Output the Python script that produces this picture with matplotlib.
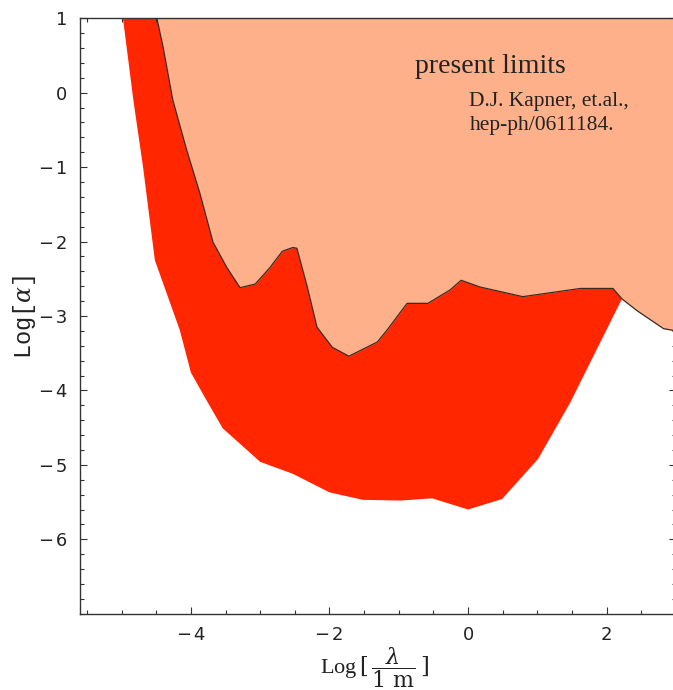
import matplotlib.pyplot as plt
from matplotlib.ticker import MultipleLocator, FixedLocator, FixedFormatter
import numpy as np

# present limits boundary (log10 lambda [m], log10 alpha)
lam_present = [-4.49, -4.40, -4.26, -4.06, -3.87, -3.68, -3.48, -3.29, -3.07, -2.86,
               -2.68, -2.53, -2.47, -2.32, -2.18, -1.96, -1.72, -1.31, -1.17, -0.88,
               -0.58, -0.26, -0.10, 0.17, 0.79, 1.62, 2.09, 2.22, 2.44, 2.82, 3.0]
alpha_present = [1.0, 0.61, -0.10, -0.77, -1.35, -2.01, -2.35, -2.62, -2.57, -2.35,
                 -2.13, -2.08, -2.09, -2.61, -3.15, -3.42, -3.54, -3.35, -3.19, -2.83,
                 -2.83, -2.65, -2.52, -2.61, -2.74, -2.63, -2.63, -2.77, -2.93, -3.17, -3.2]

# lower edge of the projected reach
lam_reach = [-4.98, -4.83, -4.69, -4.52, -4.16, -4.0, -3.77, -3.54, -3.0, -2.53,
             -2.0, -1.52, -0.98, -0.52, 0.0, 0.49, 1.01, 1.47, 2.22]
alpha_reach = [1.0, -0.10, -1.0, -2.25, -3.19, -3.76, -4.14, -4.51, -4.96, -5.12,
               -5.37, -5.47, -5.48, -5.45, -5.60, -5.46, -4.92, -4.17, -2.77]

xticks = [-4, -2, 0, 2]
xlabels = ['\u2212\u200a4', '\u2212\u200a2', '0', '2']
yticks = [-6, -5, -4, -3, -2, -1, 0, 1]
ylabels = ['\u2212\u200a6', '\u2212\u200a5', '\u2212\u200a4', '\u2212\u200a3',
           '\u2212\u200a2', '\u2212\u200a1', '0', '1']

salmon = '#fdb08a'
red = '#ff2600'

plt.rcParams['mathtext.fontset'] = 'dejavuserif'

fig = plt.figure(figsize=(6.73, 6.90), dpi=100)
ax = fig.add_axes([80/673, (690-613.7)/690, (676-80)/673, (613.7-18.3)/690])

# red band: lower edge, then back along the present-limit curve
lp = np.array(lam_present)
ap = np.array(alpha_present)
keep = lp <= 2.22
band_x = np.concatenate([lam_reach, lp[keep][::-1]])
band_y = np.concatenate([alpha_reach, ap[keep][::-1]])
ax.fill(band_x, band_y, color=red, lw=0, zorder=1)

# excluded region above the present limits
ax.fill_between(lam_present, alpha_present, 1.5, color=salmon, lw=0, zorder=2)
ax.plot(lam_present, alpha_present, color='#3a2a22', lw=0.9, zorder=3)

ax.text(-0.76, 0.27, 'present limits', family='Liberation Serif', fontsize=20,
        color='#222222', va='baseline')
ax.text(0.02, -0.18, 'D.J. Kapner, et.al.,', family='Liberation Serif', fontsize=15.5,
        color='#222222', va='baseline')
ax.text(0.02, -0.50, 'hep-ph/0611184.', family='Liberation Serif', fontsize=15.5,
        color='#222222', va='baseline')

ax.set_xlim(-5.6, 3.0)
ax.set_ylim(-7, 1)
ax.xaxis.set_major_locator(FixedLocator(xticks))
ax.xaxis.set_major_formatter(FixedFormatter(xlabels))
ax.yaxis.set_major_locator(FixedLocator(yticks))
ax.yaxis.set_major_formatter(FixedFormatter(ylabels))
ax.xaxis.set_minor_locator(MultipleLocator(0.5))
ax.yaxis.set_minor_locator(MultipleLocator(0.2))

ax.tick_params(which='both', direction='in', top=True, right=True, color='#333333', width=0.8)
ax.tick_params(which='major', length=5)
ax.tick_params(which='minor', length=3)
ax.tick_params(axis='x', which='major', labelsize=13, pad=9, labelcolor='#222222')
ax.tick_params(axis='y', which='major', labelsize=13, pad=9, labelcolor='#222222')
for side in ax.spines.values():
    side.set_color('#333333')
    side.set_linewidth(1.0)

fig.text(25/673, 1 - 317/690, r'Log[$\alpha$]', family='Liberation Mono', fontsize=17,
         rotation=90, ha='center', va='center', color='#222222')
fig.text(375/673, 1 - 668/690, r'Log$\,[\,\dfrac{\lambda}{1\ \mathrm{m}}\,]$',
         family='Liberation Serif', fontsize=16, ha='center', va='center', color='#222222')

fig.savefig('out.png', dpi=100)
